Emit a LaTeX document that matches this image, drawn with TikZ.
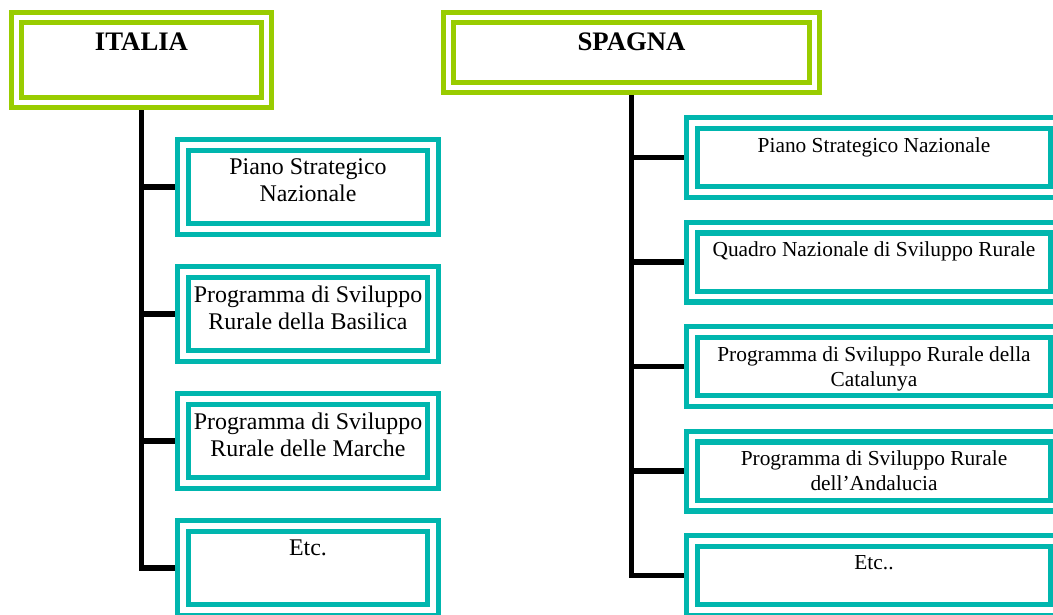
\documentclass[tikz,border=0pt]{standalone}
\usepackage{fontspec}
\setmainfont{Liberation Serif}
\usetikzlibrary{positioning}
\definecolor{titlegreen}{RGB}{153,204,0}
\definecolor{boxteal}{RGB}{0,182,174}
\newcommand{\countryfont}{\fontsize{19}{23}\selectfont\bfseries}
\newcommand{\itplanfont}{\fontsize{17}{19.3}\selectfont}
\newcommand{\esplanfont}{\fontsize{15.2}{17.8}\selectfont}
\tikzstyle{country} = [rectangle, draw=titlegreen, double=white, line width=0.125cm, double distance=0.125cm, outer sep=0.1875cm]
\tikzstyle{plan} = [rectangle, draw=boxteal, double=white, line width=0.135cm, double distance=0.13cm, outer sep=0.2cm]
\tikzstyle{trunk} = [line width=4pt, line join=miter]
\tikzstyle{caption} = [inner sep=0, align=center]

\begin{document}
\begin{tikzpicture}
        \useasboundingbox (0, 0) rectangle (26.325, -15.35);
        \clip (0, 0) rectangle (26.325, -15.35);

        % countries
        \node[country, minimum width=6.25cm, minimum height=2.125cm] at (3.5375, -1.5) (Italia) {};
        \node[country, minimum width=9.15cm, minimum height=1.75cm] at (15.7875, -1.3125) (Spagna) {};
        \node[caption, font=\countryfont, below=0.575cm of Italia.north] (ItaliaText) {ITALIA};
        \node[caption, font=\countryfont, below=0.575cm of Spagna.north] (SpagnaText) {SPAGNA};

        % italian plans
        \node[plan, minimum width=6.25cm, minimum height=2.1cm] at (7.7, -4.675) (itPSN) {};
        \node[plan, minimum width=6.25cm, minimum height=2.1cm] at (7.7, -7.85) (itBasilicata) {};
        \node[plan, minimum width=6.25cm, minimum height=2.1cm] at (7.7, -11.025) (itMarche) {};
        \node[plan, minimum width=6.25cm, minimum height=2.1cm] at (7.7, -14.2) (itEtc) {};
        \node[caption, font=\itplanfont, below=0.54cm of itPSN.north] (itPSNText) {Piano Strategico\\Nazionale};
        \node[caption, font=\itplanfont, below=0.54cm of itBasilicata.north] (itBasilicataText) {Programma di Sviluppo\\Rurale della Basilica};
        \node[caption, font=\itplanfont, below=0.54cm of itMarche.north] (itMarcheText) {Programma di Sviluppo\\Rurale delle Marche};
        \node[caption, font=\itplanfont, below=0.54cm of itEtc.north] (itEtcText) {Etc.};

        % spanish plans
        \node[plan, minimum width=9.1cm, minimum height=1.725cm] at (21.85, -3.9375) (esPSN) {};
        \node[plan, minimum width=9.1cm, minimum height=1.725cm] at (21.85, -6.55) (esQNSR) {};
        \node[plan, minimum width=9.1cm, minimum height=1.725cm] at (21.85, -9.1625) (esCatalunya) {};
        \node[plan, minimum width=9.1cm, minimum height=1.725cm] at (21.85, -11.775) (esAndalucia) {};
        \node[plan, minimum width=9.1cm, minimum height=1.725cm] at (21.85, -14.3875) (esEtc) {};
        \node[caption, font=\esplanfont, below=0.55cm of esPSN.north] (esPSNText) {Piano Strategico Nazionale};
        \node[caption, font=\esplanfont, below=0.55cm of esQNSR.north] (esQNSRText) {Quadro Nazionale di Sviluppo Rurale};
        \node[caption, font=\esplanfont, below=0.55cm of esCatalunya.north] (esCatalunyaText) {Programma di Sviluppo Rurale della\\Catalunya};
        \node[caption, font=\esplanfont, below=0.55cm of esAndalucia.north] (esAndaluciaText) {Programma di Sviluppo Rurale\\dell’Andalucia};
        \node[caption, font=\esplanfont, below=0.55cm of esEtc.north] (esEtcText) {Etc..};

        \draw[trunk] (Italia.south) |- (itPSN.west);
        \draw[trunk] (Italia.south) |- (itBasilicata.west);
        \draw[trunk] (Italia.south) |- (itMarche.west);
        \draw[trunk] (Italia.south) |- (itEtc.west);

        \draw[trunk] (Spagna.south) |- (esPSN.west);
        \draw[trunk] (Spagna.south) |- (esQNSR.west);
        \draw[trunk] (Spagna.south) |- (esCatalunya.west);
        \draw[trunk] (Spagna.south) |- (esAndalucia.west);
        \draw[trunk] (Spagna.south) |- (esEtc.west);
    \end{tikzpicture}
\end{document}
